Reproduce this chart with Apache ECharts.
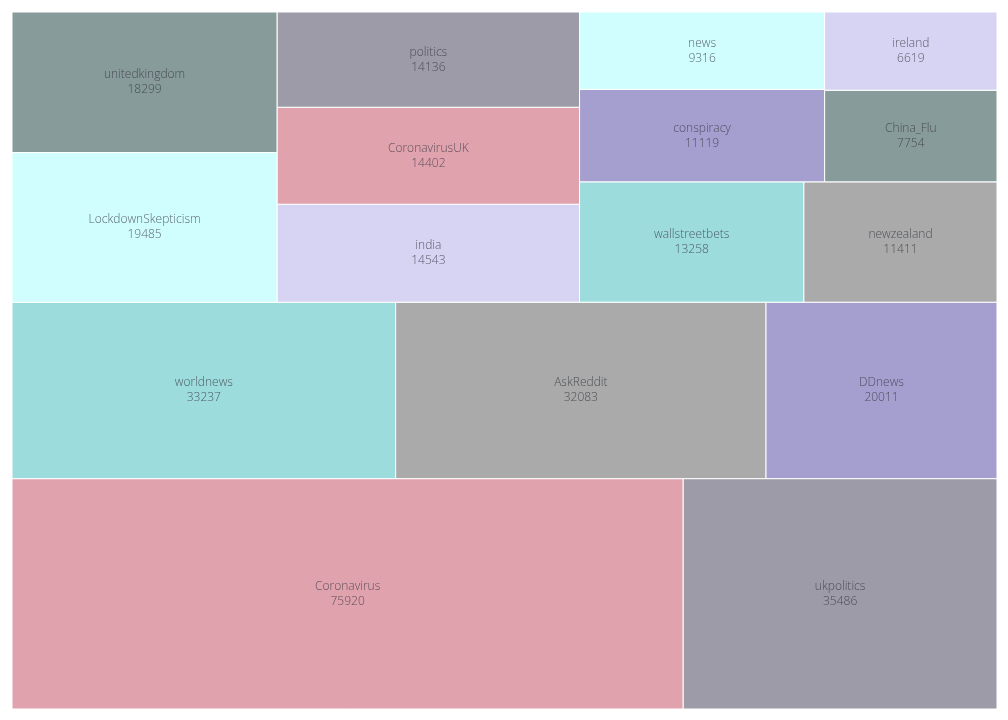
<!DOCTYPE html>
<html>
<head>
<meta charset="utf-8">
<script src="https://cdn.jsdelivr.net/npm/echarts@6/dist/echarts.min.js"></script>
<style>html,body{margin:0;padding:0;background:#fff;}#chart{width:1008px;height:720px;}</style>
</head>
<body>
<div id="chart"></div>
<script>
// ---- data ----
const names = ['Coronavirus','ukpolitics','worldnews','AskReddit','DDnews','LockdownSkepticism','unitedkingdom','india','CoronavirusUK','politics','wallstreetbets','newzealand','conspiracy','news','China_Flu','ireland'];
const values = [75920,35486,33237,32083,20011,19485,18299,14543,14402,14136,13258,11411,11119,9316,7754,6619];
const palette = ['#e0a3ae','#9d9ba7','#9ddcdc','#a9aaa9','#a59fcf','#d0fefe','#889b9b','#d7d3f2'];

// ---- squarify (normalized space) ----
const NORM_X = 100, NORM_Y = 150;
function layoutrow(sizes, x, y, dx, dy) {
  const cov = sizes.reduce((a,b)=>a+b,0); const w = cov/dy; const r=[];
  for (const s of sizes) { r.push({x:x,y:y,dx:w,dy:s/w}); y += s/w; } return r;
}
function layoutcol(sizes, x, y, dx, dy) {
  const cov = sizes.reduce((a,b)=>a+b,0); const h = cov/dx; const r=[];
  for (const s of sizes) { r.push({x:x,y:y,dx:s/h,dy:h}); x += s/h; } return r;
}
function layout(s,x,y,dx,dy){ return dx>=dy ? layoutrow(s,x,y,dx,dy) : layoutcol(s,x,y,dx,dy); }
function leftover(s,x,y,dx,dy){
  const cov = s.reduce((a,b)=>a+b,0);
  if (dx>=dy){ const w=cov/dy; return [x+w,y,dx-w,dy]; }
  const h=cov/dx; return [x,y+h,dx,dy-h];
}
function worst(s,x,y,dx,dy){
  return Math.max(...layout(s,x,y,dx,dy).map(r=>Math.max(r.dx/r.dy,r.dy/r.dx)));
}
function squarify(sizes,x,y,dx,dy){
  if (!sizes.length) return [];
  if (sizes.length===1) return layout(sizes,x,y,dx,dy);
  let i=1;
  while (i<sizes.length && worst(sizes.slice(0,i),x,y,dx,dy) >= worst(sizes.slice(0,i+1),x,y,dx,dy)) i++;
  const cur=sizes.slice(0,i), rem=sizes.slice(i);
  const lo=leftover(cur,x,y,dx,dy);
  return layout(cur,x,y,dx,dy).concat(squarify(rem,lo[0],lo[1],lo[2],lo[3]));
}
const total = values.reduce((a,b)=>a+b,0);
const norm = values.map(v => v*NORM_X*NORM_Y/total);
const rects = squarify(norm,0,0,NORM_X,NORM_Y);
const seriesData = rects.map((r,i)=>({value:[r.x,r.y,r.x+r.dx,r.y+r.dy,i]}));

const chart = echarts.init(document.getElementById('chart'));
chart.setOption({
  animation:false,
  grid:{left:12,right:11,top:12,bottom:11,containLabel:false},
  xAxis:{type:'value',min:0,max:NORM_X,show:false},
  yAxis:{type:'value',min:0,max:NORM_Y,show:false},
  series:[{
    type:'custom',
    data:seriesData,
    renderItem:function(params,api){
      const x0=api.value(0), y0=api.value(1), x1=api.value(2), y1=api.value(3), i=api.value(4);
      const p0=api.coord([x0,y1]), p1=api.coord([x1,y0]);
      return {
        type:'rect',
        shape:{x:p0[0],y:p0[1],width:p1[0]-p0[0],height:p1[1]-p0[1]},
        style:{
          fill:palette[i%palette.length],
          stroke:'#ffffff',lineWidth:1,
          text:names[i]+'\n'+values[i],
          textFill:'rgba(50,50,60,0.75)',
          fontFamily:'Open Sans',fontSize:12,fontWeight:300,
          textPosition:'inside',textAlign:'center',textVerticalAlign:'middle',textLineHeight:15
        }
      };
    }
  }]
});
</script>
</body>
</html>
